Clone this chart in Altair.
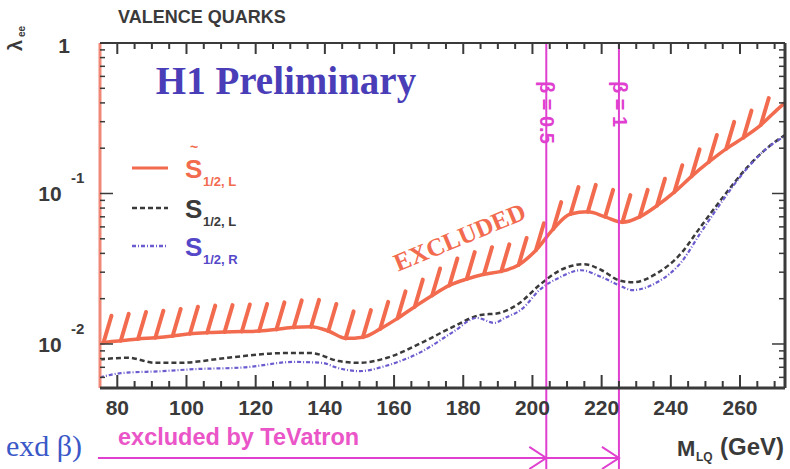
import altair as alt
import pandas as pd

# ---------------- data ----------------
RED_M = [75, 76, 81, 86, 91, 96, 101, 106, 111, 116, 121, 126, 131, 136, 141, 146, 151, 156,
         161, 166, 171, 176, 181, 186, 191, 196, 201, 206, 211, 216, 221, 226, 231, 236, 241,
         246, 251, 256, 261, 266, 271, 273]
RED_L = [0.0101, 0.0102, 0.0105, 0.0108, 0.0110, 0.0113, 0.0117, 0.0119, 0.0120, 0.0121, 0.0122,
         0.0125, 0.0129, 0.0130, 0.0122, 0.0109, 0.0111, 0.0126, 0.0148, 0.0177, 0.0210, 0.0245,
         0.0270, 0.0291, 0.0304, 0.0335, 0.0420, 0.0580, 0.0730, 0.0755, 0.0700, 0.0645, 0.0700,
         0.0830, 0.1020, 0.1300, 0.1620, 0.1980, 0.2350, 0.2850, 0.3650, 0.4000]

BLK_M = [75, 83, 91, 98, 112, 128, 136, 144, 150, 158, 168, 177, 185, 190, 196, 202, 208, 215,
         220, 225, 229, 236, 243, 248.5, 255, 262, 268, 273]
BLK_L = [0.0079, 0.0081, 0.0075, 0.0075, 0.0081, 0.0087, 0.0087, 0.0077, 0.0075, 0.0081, 0.0102,
         0.0130, 0.0156, 0.0160, 0.0185, 0.0246, 0.0309, 0.0339, 0.0309, 0.0265, 0.0257, 0.0295,
         0.0401, 0.0596, 0.0941, 0.1486, 0.2017, 0.2450]

BLU_M = [75, 81, 93, 102, 117, 131, 139, 144, 150, 158, 168, 177, 184, 189, 192, 197, 202, 208,
         214, 220, 225, 229, 236, 243, 248.5, 255, 262, 268, 273]
BLU_L = [0.0060, 0.0064, 0.0066, 0.0068, 0.0070, 0.0076, 0.0075, 0.0069, 0.0066, 0.0072, 0.0089,
         0.0120, 0.0149, 0.0138, 0.0149, 0.0171, 0.0228, 0.0278, 0.0309, 0.0278, 0.0246, 0.0228,
         0.0257, 0.0349, 0.0543, 0.0899, 0.1465, 0.2017, 0.2400]

BETA_M = [204, 225]
BETA_TXT = ["β = 0.5", "β = 1"]
TEV_FROM = [74.4]           # TeVatron exclusion arrow starts at the left edge
TEV_TO = [BETA_M[1]]

X_MAJOR = [80, 100, 120, 140, 160, 180, 200, 220, 240, 260]
X_MINOR = [85, 90, 95, 105, 110, 115, 125, 130, 135, 145, 150, 155, 165, 170, 175, 185, 190,
           195, 205, 210, 215, 225, 230, 235, 245, 250, 255, 265, 270]
Y_MAJOR = [0.01, 0.1, 1.0]
Y_MINOR = [0.006, 0.007, 0.008, 0.009, 0.02, 0.03, 0.04, 0.05, 0.06, 0.07, 0.08, 0.09,
           0.2, 0.3, 0.4, 0.5, 0.6, 0.7, 0.8, 0.9]
Y_LAB_V = [0.01, 0.1]
Y_LAB_EXP = ["-2", "-1"]

# ---------------- styling ----------------
W, H = 685, 345
RED = "#f26b4f"
SALMON = "#f08878"
DARK = "#3a3a3a"
BLUE = "#6a5ccf"
MAG = "#e040d0"
H1BLUE = "#4a3db8"
SANS = "Liberation Sans"
SERIF = "Liberation Serif"

xs = alt.Scale(domain=[75, 273], nice=False, zero=False)
ys = alt.Scale(type="log", domain=[0.0051, 1.0], nice=False)

red = pd.DataFrame({"m": RED_M, "lam": RED_L})
blk = pd.DataFrame({"m": BLK_M, "lam": BLK_L})
blu = pd.DataFrame({"m": BLU_M, "lam": BLU_L})
beta = pd.DataFrame({"m": BETA_M, "t": BETA_TXT})
tev = pd.DataFrame({"a": TEV_FROM, "b": TEV_TO})
xmaj = pd.DataFrame({"v": X_MAJOR})
xmin = pd.DataFrame({"v": X_MINOR})
ymaj = pd.DataFrame({"v": Y_MAJOR})
ymin = pd.DataFrame({"v": Y_MINOR})
ylab = pd.DataFrame({"v": Y_LAB_V, "e": Y_LAB_EXP})
one = pd.DataFrame({"k": [0]})


def X(f="m"):
    return alt.X(f"{f}:Q", scale=xs, axis=None)


def Y(f="lam"):
    return alt.Y(f"{f}:Q", scale=ys, axis=None)


def txt(s, x, y, size, color, font=SANS, weight="bold", align="left", baseline="middle", angle=0):
    kw = dict(text=s, fontSize=size, font=font, fontWeight=weight, color=color,
              align=align, baseline=baseline)
    if angle:
        kw["angle"] = angle
    return alt.Chart(one).mark_text(**kw).encode(x=alt.value(x), y=alt.value(y))


layers = []

# red limit curve
layers.append(
    alt.Chart(red).mark_line(color=RED, strokeWidth=3.5, interpolate="monotone").encode(
        x=X(), y=Y())
)
# hatching on the excluded side
layers.append(
    alt.Chart(red).transform_filter("datum.m >= 76 && datum.m <= 268")
    .mark_rule(color=RED, strokeWidth=4, strokeCap="round", x2Offset=8, y2Offset=-27)
    .encode(x=X(), y=Y(), x2=alt.X2("m:Q"), y2=alt.Y2("lam:Q"))
)
layers.append(
    alt.Chart(blk).mark_line(color=DARK, strokeWidth=2.5, strokeDash=[5, 3],
                             interpolate="monotone").encode(x=X(), y=Y())
)
layers.append(
    alt.Chart(blu).mark_line(color=BLUE, strokeWidth=2.2, strokeDash=[4, 2, 1, 2],
                             interpolate="monotone").encode(x=X(), y=Y())
)

# beta lines, labels and TeVatron arrow
layers.append(
    alt.Chart(beta).mark_rule(color=MAG, strokeWidth=2).encode(
        x=X(), y=alt.value(0), y2=alt.value(H + 81))
)
layers.append(
    alt.Chart(beta).mark_text(angle=90, align="left", baseline="middle", dx=14,
                              fontSize=20, font=SANS, fontWeight="bold", color=MAG).encode(
        x=X(), y=alt.value(24), text="t:N")
)
layers.append(
    alt.Chart(tev).mark_rule(color=MAG, strokeWidth=2).encode(
        x=X("a"), x2=alt.X2("b:Q"), y=alt.value(H + 70))
)
layers.append(
    alt.Chart(beta).mark_point(shape="M-1,-0.65L0,0L-1,0.65", filled=False, color=MAG,
                               strokeWidth=2, size=1156, opacity=1).encode(
        x=X(), y=alt.value(H + 70))
)

# frame
layers.append(alt.Chart(one).mark_rule(color=SALMON, strokeWidth=3).encode(
    x=alt.value(0), y=alt.value(0), y2=alt.value(H)))
layers.append(alt.Chart(one).mark_rule(color=DARK, strokeWidth=2).encode(
    x=alt.value(0), x2=alt.value(W), y=alt.value(0)))
layers.append(alt.Chart(one).mark_rule(color=DARK, strokeWidth=3).encode(
    x=alt.value(W), y=alt.value(0), y2=alt.value(H)))
layers.append(alt.Chart(one).mark_rule(color=DARK, strokeWidth=3).encode(
    x=alt.value(0), x2=alt.value(W), y=alt.value(H)))

# inward ticks
layers.append(alt.Chart(xmaj).mark_rule(color=DARK, strokeWidth=2).encode(
    x=X("v"), y=alt.value(H), y2=alt.value(H - 13)))
layers.append(alt.Chart(xmin).mark_rule(color=DARK, strokeWidth=2).encode(
    x=X("v"), y=alt.value(H), y2=alt.value(H - 7)))
layers.append(alt.Chart(xmaj).mark_rule(color=DARK, strokeWidth=2).encode(
    x=X("v"), y=alt.value(0), y2=alt.value(11)))
layers.append(alt.Chart(xmin).mark_rule(color=DARK, strokeWidth=2).encode(
    x=X("v"), y=alt.value(0), y2=alt.value(6)))
layers.append(alt.Chart(ymaj).mark_rule(color=DARK, strokeWidth=1.5).encode(
    y=Y("v"), x=alt.value(0), x2=alt.value(13)))
layers.append(alt.Chart(ymin).mark_rule(color=DARK, strokeWidth=1.5).encode(
    y=Y("v"), x=alt.value(0), x2=alt.value(5)))
layers.append(alt.Chart(ymaj).mark_rule(color=DARK, strokeWidth=1.5).encode(
    y=Y("v"), x=alt.value(W), x2=alt.value(W - 13)))
layers.append(alt.Chart(ymin).mark_rule(color=DARK, strokeWidth=1.5).encode(
    y=Y("v"), x=alt.value(W), x2=alt.value(W - 6)))

# x tick labels
layers.append(alt.Chart(xmaj).mark_text(fontSize=21, font=SANS, fontWeight="bold", color=DARK,
                                        align="center", baseline="middle")
              .encode(x=X("v"), y=alt.value(H + 21), text=alt.Text("v:Q", format="d")))

# y tick labels 10^-2, 10^-1, 1
layers.append(alt.Chart(ylab).mark_text(text="10", fontSize=21, font=SANS, fontWeight="bold",
                                        color=DARK, align="center", baseline="middle", dy=2)
              .encode(x=alt.value(-50), y=Y("v")))
layers.append(alt.Chart(ylab).mark_text(fontSize=15, font=SANS, fontWeight="bold",
                                        color=DARK, align="left", baseline="middle", dy=-15)
              .encode(x=alt.value(-29), y=Y("v"), text="e:N"))
layers.append(alt.Chart(pd.DataFrame({"v": [1.0]})).mark_text(
    text="1", fontSize=21, font=SANS, fontWeight="bold", color=DARK, align="center",
    baseline="middle", dy=4).encode(x=alt.value(-36), y=Y("v")))

# titles and annotations
layers.append(txt("VALENCE QUARKS", 18, -25, 18, DARK))
layers.append(txt("λ", -84, 8, 20, DARK, angle=270))
layers.append(txt("ee", -78, -6, 10, DARK, angle=270))
layers.append(txt("H1 Preliminary", 186, 39, 39, H1BLUE, font=SERIF, align="center"))
layers.append(
    alt.Chart(pd.DataFrame({"m": [179], "lam": [0.051]})).mark_text(
        text="EXCLUDED", angle=337.5, fontSize=25, font=SERIF, fontWeight="bold", color=RED,
        align="center", baseline="middle").encode(x=X(), y=Y())
)

# legend
for yy, col, dash, sub, tcol in [
    (125, RED, None, "1/2, L", RED),
    (165, DARK, [5, 3], "1/2, L", DARK),
    (203, BLUE, [4, 2, 1, 2], "1/2, R", "#5548c8"),
]:
    kw = dict(color=col, strokeWidth=3 if dash is None else 2.5)
    if dash:
        kw["strokeDash"] = dash
    layers.append(alt.Chart(one).mark_rule(**kw).encode(
        x=alt.value(32), x2=alt.value(68), y=alt.value(yy)))
    layers.append(txt("S", 85, yy + 2, 26, tcol))
    layers.append(txt(sub, 103, yy + 14, 13, tcol))
layers.append(txt("~", 94, 105, 14, RED, align="center"))

# bottom texts
layers.append(txt("excluded by TeVatron", 18, 395, 23.5, "#ea55c8"))
layers.append(txt("M", 577, 406, 22, DARK))
layers.append(txt("LQ", 596, 414, 12, DARK))
layers.append(txt("(GeV)", 620, 405, 24, DARK))
layers.append(txt("exd β)", -18, 404, 30, "#3a58c8", font=SERIF, weight="normal", align="right"))

chart = alt.layer(*layers).properties(
    width=W, height=H,
    padding={"left": 100, "top": 43, "right": 5, "bottom": 81},
    autosize=alt.AutoSizeParams(type="none"),
    background="white",
).configure_view(stroke=None)

chart.save("out.html", embed_options={"renderer": "svg", "actions": False})
